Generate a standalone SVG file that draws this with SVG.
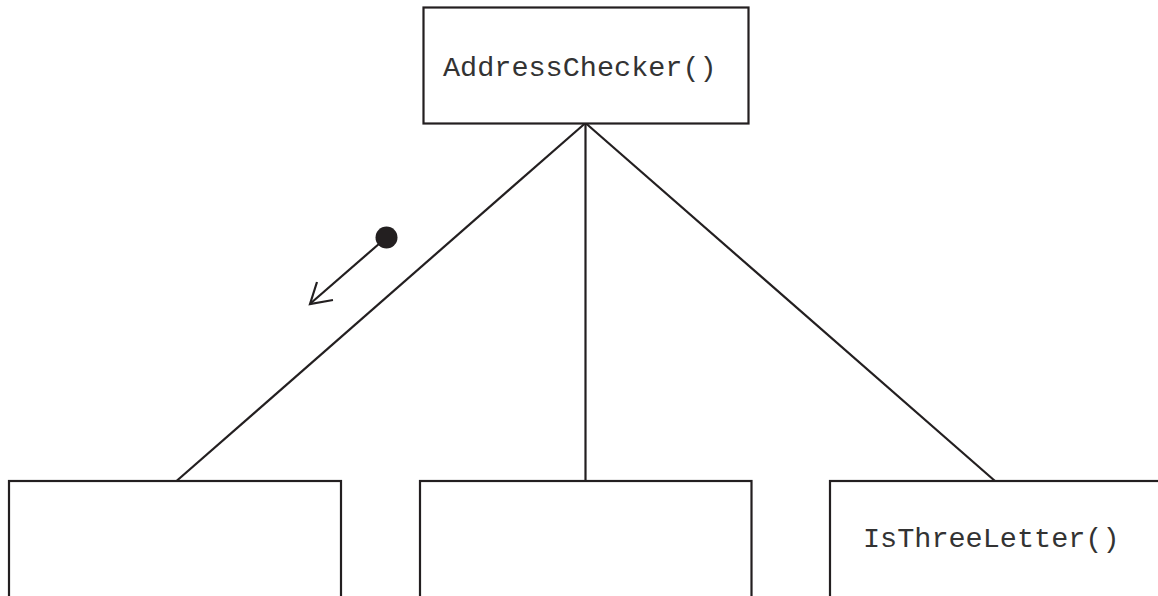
<svg xmlns="http://www.w3.org/2000/svg" width="1158" height="596" viewBox="0 0 1158 596">
<style>
.box{fill:#fff;stroke:#231f20;stroke-width:2.2}
.lbl{font-family:"Liberation Mono","Courier New",monospace;font-size:28.5px;fill:#333}
.conn{stroke:#231f20;stroke-width:2.2;fill:none}
</style>
<rect width="1158" height="596" fill="#fff"/>
<g id="connectors">
<line class="conn" x1="585.5" y1="123" x2="176.5" y2="481"/>
<line class="conn" x1="585.5" y1="123" x2="585.5" y2="481"/>
<line class="conn" x1="585.5" y1="123" x2="995" y2="481"/>
</g>
<g id="node-addresschecker">
<rect class="box" x="423.5" y="7.5" width="325" height="116"/>
<text class="lbl" x="443" y="76">AddressChecker()</text>
</g>
<g id="node-left">
<rect class="box" x="9" y="481" width="332" height="130"/>
</g>
<g id="node-middle">
<rect class="box" x="420" y="481" width="331.5" height="130"/>
</g>
<g id="node-isthreeletter">
<rect class="box" x="830" y="481" width="340" height="130"/>
<text class="lbl" x="863" y="547">IsThreeLetter()</text>
</g>
<g id="flow-arrow">
<circle cx="386.5" cy="237.5" r="11" fill="#231f20"/>
<line class="conn" x1="380" y1="243" x2="311" y2="303"/>
<polyline class="conn" points="317,282 310,304 333,300"/>
</g>
</svg>
